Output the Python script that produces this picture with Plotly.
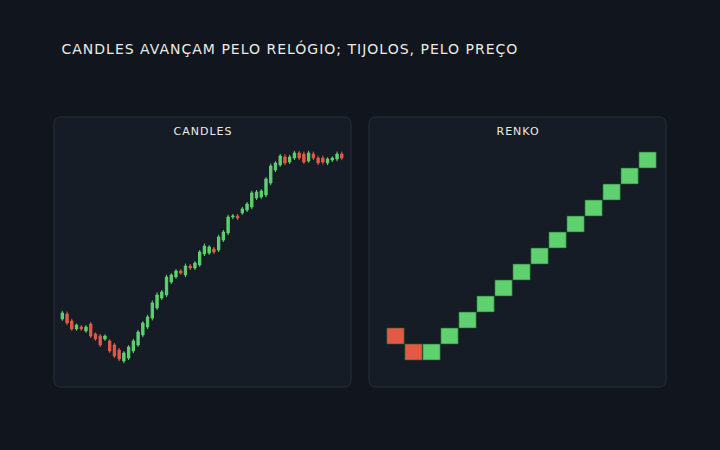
import plotly.graph_objects as go

# ---- data ----
candle_idx = list(range(60))
c_open = [101.38, 102.00, 101.13, 100.13, 100.38, 99.88, 100.75, 99.50, 99.25, 98.88,
          98.63, 98.13, 97.50, 96.13, 96.50, 97.38, 98.13, 99.38, 100.38, 101.50,
          102.75, 104.00, 104.38, 106.00, 106.63, 107.38, 106.88, 108.00, 107.75, 108.13,
          109.50, 109.63, 110.13, 110.00, 111.25, 112.13, 114.13, 114.25, 114.63, 115.00,
          115.38, 116.50, 116.63, 116.88, 118.38, 120.00, 120.63, 121.63, 121.00, 121.50,
          122.13, 122.00, 121.13, 122.00, 121.50, 121.50, 120.88, 121.25, 121.38, 122.00]
c_close = [102.13, 100.88, 100.13, 100.63, 100.13, 100.38, 99.25, 98.88, 98.13, 99.25,
           97.38, 96.75, 96.38, 97.13, 97.88, 98.63, 99.75, 100.88, 101.63, 103.38,
           104.38, 104.75, 106.63, 106.88, 107.38, 107.13, 108.00, 107.75, 108.38, 109.75,
           110.50, 110.38, 109.75, 111.63, 112.25, 114.13, 114.25, 114.00, 115.13, 115.75,
           117.13, 117.25, 117.38, 118.88, 120.50, 120.88, 121.75, 120.88, 121.63, 122.13,
           121.50, 121.00, 122.13, 121.50, 120.88, 121.00, 121.38, 121.50, 122.00, 121.50]
c_high = [102.40, 102.30, 101.40, 100.80, 100.60, 100.60, 101.00, 99.70, 99.50, 99.45,
          98.85, 98.35, 97.75, 97.35, 98.10, 98.90, 100.00, 101.10, 101.90, 103.70,
          104.70, 105.00, 106.90, 107.10, 107.60, 107.60, 108.30, 108.25, 108.60, 110.00,
          110.80, 110.60, 110.40, 111.90, 112.50, 114.40, 114.50, 114.50, 115.40, 116.00,
          117.40, 117.50, 117.60, 119.10, 120.80, 121.10, 122.00, 122.00, 121.90, 122.40,
          122.40, 122.30, 122.40, 122.30, 121.80, 121.80, 121.60, 121.70, 122.30, 122.30]
c_low = [101.15, 100.60, 99.90, 99.90, 99.90, 99.65, 99.00, 98.65, 97.90, 98.65,
         97.15, 96.50, 96.10, 95.85, 96.25, 97.10, 97.90, 99.10, 100.10, 101.20,
         102.50, 103.75, 104.10, 105.75, 106.40, 106.90, 106.60, 107.50, 107.50, 107.90,
         109.25, 109.40, 109.50, 109.75, 111.00, 111.85, 113.85, 113.75, 114.40, 114.75,
         115.10, 116.25, 116.40, 116.60, 118.10, 119.75, 120.40, 120.60, 120.75, 121.25,
         121.25, 120.75, 120.90, 121.25, 120.60, 120.70, 120.60, 121.00, 121.10, 121.25]

renko_idx = list(range(15))
renko_open = [102, 100, 98, 100, 102, 104, 106, 108, 110, 112, 114, 116, 118, 120, 122]
renko_close = [100, 98, 100, 102, 104, 106, 108, 110, 112, 114, 116, 118, 120, 122, 124]

# ---- style ----
BG = "#11161e"
PANEL = "#161c26"
BORDER = "#272e39"
GREEN = "#5fd16f"
RED = "#e25a46"
TEXT = "#eceae4"
W, H = 720, 450


def px(x):
    return x / W


def py(y):
    return 1 - y / H


fig = go.Figure()

fig.add_trace(go.Candlestick(
    x=candle_idx, open=c_open, high=c_high, low=c_low, close=c_close,
    increasing=dict(line=dict(color=GREEN, width=1), fillcolor=GREEN),
    decreasing=dict(line=dict(color=RED, width=1), fillcolor=RED),
    whiskerwidth=0, xaxis="x", yaxis="y", showlegend=False, hoverinfo="skip",
))

r_base = [min(o, c) for o, c in zip(renko_open, renko_close)]
r_height = [abs(c - o) for o, c in zip(renko_open, renko_close)]
r_color = [GREEN if c > o else RED for o, c in zip(renko_open, renko_close)]
fig.add_trace(go.Bar(
    x=renko_idx, y=r_height, base=r_base, width=0.96,
    marker=dict(color=r_color, line=dict(color="#1f5a2b", width=0.6)),
    xaxis="x2", yaxis="y2", showlegend=False, hoverinfo="skip",
))


def rounded(x0, y0, x1, y1, r):
    pts = (f"M {px(x0 + r)},{py(y0)} L {px(x1 - r)},{py(y0)} "
           f"Q {px(x1)},{py(y0)} {px(x1)},{py(y0 + r)} "
           f"L {px(x1)},{py(y1 - r)} Q {px(x1)},{py(y1)} {px(x1 - r)},{py(y1)} "
           f"L {px(x0 + r)},{py(y1)} Q {px(x0)},{py(y1)} {px(x0)},{py(y1 - r)} "
           f"L {px(x0)},{py(y0 + r)} Q {px(x0)},{py(y0)} {px(x0 + r)},{py(y0)} Z")
    return pts


shapes = []
for (x0, x1) in [(54, 351), (369, 666)]:
    shapes.append(dict(type="path", path=rounded(x0, 117, x1, 387, 7),
                       xref="paper", yref="paper", fillcolor=PANEL,
                       line=dict(color=BORDER, width=1), layer="below"))

axis_common = dict(visible=False, showgrid=False, zeroline=False, fixedrange=True)

fig.update_layout(
    width=W, height=H,
    paper_bgcolor=BG, plot_bgcolor="rgba(0,0,0,0)",
    margin=dict(l=0, r=0, t=0, b=0),
    shapes=shapes,
    xaxis=dict(domain=[px(58), px(347)], range=[-0.91, 60.1], rangeslider=dict(visible=False), **axis_common),
    yaxis=dict(domain=[py(380), py(140)], range=[93.75, 123.75], **axis_common),
    xaxis2=dict(domain=[px(373), px(662)], range=[-1.25, 14.8], anchor="y2", **axis_common),
    yaxis2=dict(domain=[py(380), py(140)], range=[95.5, 125.5], anchor="x2", **axis_common),
    bargap=0,
    annotations=[
        dict(text="CANDLES AVANÇAM PELO RELÓGIO; TIJOLOS, PELO PREÇO", x=px(84), y=py(48),
             xref="paper", yref="paper", xanchor="left", yanchor="middle", showarrow=False,
             font=dict(family="DejaVu Sans", size=14, color=TEXT)),
        dict(text="CANDLES", x=px(203), y=py(131), xref="paper", yref="paper",
             xanchor="center", yanchor="middle", showarrow=False,
             font=dict(family="DejaVu Sans", size=11, color=TEXT)),
        dict(text="RENKO", x=px(518), y=py(131), xref="paper", yref="paper",
             xanchor="center", yanchor="middle", showarrow=False,
             font=dict(family="DejaVu Sans", size=11, color=TEXT)),
    ],
)

post = """
document.body.style.margin='0';
document.body.style.background='#11161e';
document.querySelectorAll('text.annotation-text').forEach(function(t){
  t.style.letterSpacing='1px';
});
"""

fig.write_html("out.html", post_script=post, config={"displayModeBar": False, "staticPlot": True})
